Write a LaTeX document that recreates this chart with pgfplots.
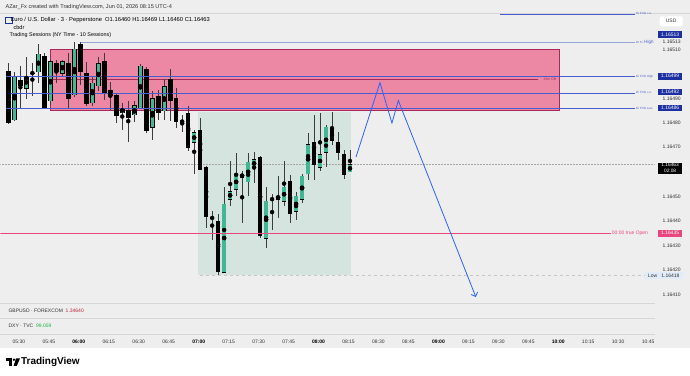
\documentclass[border=0pt]{standalone}
\usepackage{pgfplots}
\pgfplotsset{compat=1.18}
\usepackage{pgfplotstable}
\usepackage{fontspec}
\setmainfont{Liberation Sans}
\usetikzlibrary{arrows.meta}

\definecolor{bg}{RGB}{238,238,238}
\definecolor{bull}{RGB}{64,184,150}
\definecolor{wick}{RGB}{60,60,60}
\definecolor{obfill}{RGB}{236,136,164}
\definecolor{obedge}{RGB}{168,40,92}
\definecolor{sess}{RGB}{214,228,223}
\definecolor{fvg}{RGB}{72,92,205}
\definecolor{fib}{RGB}{150,165,215}
\definecolor{tvblue}{RGB}{41,98,255}
\definecolor{tvpink}{RGB}{236,70,128}
\definecolor{navy}{RGB}{28,48,160}
\definecolor{txt}{RGB}{50,50,50}
\definecolor{sepgray}{RGB}{214,214,214}
\definecolor{lowbg}{RGB}{225,236,250}

\newcommand\fs[2]{\fontsize{#1}{#2}\selectfont}

\pgfplotstableread{
t o h l c
-3 81.3 101.0 81.0 99.0
3 94.2 107.1 89.8 99.0
9 101.0 112.3 96.3 108.2
15 89.2 105.8 87.4 105.1
21 100.4 105.8 99.0 105.1
27 91.5 113.3 90.8 110.2
36 88.2 99.0 87.0 96.3
39 95.2 107.1 93.1 104.2
51 84.2 88.1 77.2 86.1
57 83.3 88.8 80.6 87.0
60 86.1 104.2 85.8 103.1
66 78.3 93.1 73.1 89.9
72 85.1 97.9 81.1 94.9
87 72.1 77.2 59.3 76.0
102 19.1 53.8 18.8 46.9
105 48.9 64.3 45.9 52.0
108 53.0 67.7 50.0 58.9
111 57.9 60.2 39.1 59.1
114 56.1 67.7 50.0 64.0
117 62.0 68.1 55.5 65.0
123 33.0 53.8 28.9 48.0
132 48.0 64.3 46.2 53.8
138 43.9 52.0 40.2 50.0
141 48.9 59.3 47.3 58.2
144 59.3 76.1 56.8 71.1
150 62.0 84.0 60.2 67.0
153 68.1 79.3 62.2 78.2
165 60.0 69.0 60.0 63.0
}\bulltab

\pgfplotstableread{
t o h l c
-6 101.0 104.7 79.7 80.2
0 97.2 103.1 86.1 95.3
6 100.4 104.4 91.1 100.4
12 107.1 108.5 86.0 86.1
18 104.2 105.8 96.3 101.0
24 104.2 108.5 86.1 90.2
30 112.2 113.3 95.6 101.0
33 100.4 105.1 87.0 88.1
42 105.1 108.6 89.5 92.2
45 93.3 96.9 85.4 91.1
48 91.1 92.3 80.2 83.1
54 85.2 89.1 72.4 82.4
63 102.0 102.8 76.1 77.0
69 91.0 93.6 81.3 84.2
75 97.9 102.0 80.9 89.3
78 89.9 94.2 78.0 80.5
81 80.9 83.3 76.4 80.3
84 84.0 87.0 68.4 70.0
90 76.9 82.0 60.9 61.1
93 62.0 62.5 37.1 41.8
96 41.2 43.9 32.3 41.2
99 39.8 42.9 18.0 19.4
120 65.9 66.6 33.0 34.0
126 48.9 51.1 36.1 48.9
129 50.0 58.2 41.2 48.9
135 56.1 58.9 39.1 43.2
147 72.0 83.3 56.8 62.9
156 77.2 84.7 71.1 72.9
159 72.0 76.5 65.0 68.1
162 67.0 68.8 57.1 59.1
}\beartab

\begin{document}
\begin{tikzpicture}[x=1pt,y=1pt]
% backgrounds
\fill[bg] (0,0) rectangle (690,376);
\fill[white] (0,0) rectangle (690,27.5);
\draw[sepgray, line width=0.8pt] (0,362.5) -- (690,362.5);
\draw[sepgray, line width=0.8pt] (0,72.7) -- (655,72.7);
\draw[sepgray, line width=0.8pt] (0,57) -- (655,57);
\draw[sepgray, line width=0.8pt] (0,41) -- (655,41);

\begin{axis}[at={(0pt,73pt)}, anchor=south west, scale only axis,
  x=2pt, y=2.45pt, xmin=-10, xmax=317.5, ymin=6.6, ymax=124.9,
  hide axis, clip=true]
% session box
\addplot[fill=sess, draw=none, forget plot] coordinates {(89,18) (165.3,18) (165.3,84.7) (89,84.7)} -- cycle;
% order block box
\addplot[fill=obfill, draw=obedge, line width=0.7pt, forget plot] coordinates {(15,85.1) (270,85.1) (270,110.2) (15,110.2)} -- cycle;
\addplot[color=obedge, line width=0.8pt, forget plot] coordinates {(15,97.9) (259,97.9)};
% current price dotted line
\addplot[color=gray!70, densely dotted, line width=0.5pt, forget plot] coordinates {(-10,63) (317.5,63)};
% low line
\addplot[color=gray!45, dashed, line width=0.4pt, forget plot] coordinates {(90,18) (312.5,18)};
% wicks
\addplot[only marks, mark=none, forget plot, error bars/.cd, y dir=both, y explicit, error mark=none,
  error bar style={draw=wick, line width=0.6pt, solid}]
  table[x=t, y expr={(\thisrow{h}+\thisrow{l})/2}, y error expr={(\thisrow{h}-\thisrow{l})/2}] {\bulltab};
\addplot[only marks, mark=none, forget plot, error bars/.cd, y dir=both, y explicit, error mark=none,
  error bar style={draw=wick, line width=0.6pt, solid}]
  table[x=t, y expr={(\thisrow{h}+\thisrow{l})/2}, y error expr={(\thisrow{h}-\thisrow{l})/2}] {\beartab};
% bodies
\addplot[only marks, mark=none, forget plot, error bars/.cd, y dir=both, y explicit, error mark=none,
  error bar style={draw=black, line width=4.6pt, solid}]
  table[x=t, y expr={(\thisrow{o}+\thisrow{c})/2}, y error expr={abs(\thisrow{o}-\thisrow{c})/2+0.2}] {\beartab};
\addplot[only marks, mark=none, forget plot, error bars/.cd, y dir=both, y explicit, error mark=none,
  error bar style={draw=black, line width=4.6pt, solid}]
  table[x=t, y expr={(\thisrow{o}+\thisrow{c})/2}, y error expr={abs(\thisrow{o}-\thisrow{c})/2+0.2}] {\bulltab};
\addplot[only marks, mark=none, forget plot, error bars/.cd, y dir=both, y explicit, error mark=none,
  error bar style={draw=bull, line width=3.4pt, solid}]
  table[x=t, y expr={(\thisrow{o}+\thisrow{c})/2}, y error expr={abs(\thisrow{o}-\thisrow{c})/2}] {\bulltab};
% true open line (level line, drawn above candles)
\draw[tvpink, line width=0.9pt] (axis cs:-10,35) -- (axis cs:295.5,35);
% FVG and fib lines
\addplot[color=fib, line width=0.9pt, forget plot] coordinates {(30.5,113) (307.5,113)};
\addplot[color=fvg, line width=0.6pt, forget plot] coordinates {(-7.4,99) (307.5,99)};
\addplot[color=fvg, line width=0.6pt, forget plot] coordinates {(-7.4,92) (307.5,92)};
\addplot[color=fvg, line width=0.6pt, forget plot] coordinates {(-7.4,86) (307.5,86)};
\addplot[color=fvg, line width=0.6pt, forget plot] coordinates {(240,124.5) (307.5,124.5)};
% projected path
\addplot[color=tvblue, line width=0.8pt, forget plot, -{Straight Barb[length=3.5pt,width=7pt]}]
  coordinates {(168,66.1) (180,96.5) (186,80.0) (189.2,89.2) (228,8.9)};
\end{axis}

% header texts
\node[anchor=west, text=txt, font=\fs{5.6}{6.5}, inner sep=0] at (5,369) {AZar\_Fx created with TradingView.com, Jun 01, 2026 08:15 UTC-4};
\draw[navy, line width=0.5pt] (5,353) rectangle (11.5,359);
\node[anchor=west, text=black, font=\fs{5.8}{6.5}, inner sep=0] at (10,356) {Euro / U.S. Dollar · 3 · Pepperstone\ \ O1.16460\ H1.16469\ L1.16460\ C1.16463};
\node[anchor=west, text=black, font=\fs{5.6}{6.5}, inner sep=0] at (13,348.5) {cbdr};
\node[anchor=west, text=black, font=\fs{5.4}{6.5}, inner sep=0] at (9,341) {Trading Sessions (NY Time - 10 Sessions)};
\node[text=obedge, font=\fs{3.5}{4}, inner sep=0] at (550,296.7) {15m OB};

% line labels
\node[anchor=west, text=fvg, font=\fs{3}{3.5}, inner sep=0] at (636,362.7) {1h FVG c.e.};
\node[anchor=west, text=fvg, font=\fs{3}{3.5}, inner sep=0] at (636,333.7) {1h Fi. {\fs{4.5}{5}High}};
\node[anchor=west, text=fvg, font=\fs{3}{3.5}, inner sep=0] at (636,299.3) {1h FVG High};
\node[anchor=west, text=fvg, font=\fs{3}{3.5}, inner sep=0] at (636,283.7) {1h FVG c.e.};
\node[anchor=west, text=fvg, font=\fs{3}{3.5}, inner sep=0] at (636,267.7) {1h FVG Low};
\node[anchor=west, text=tvpink, font=\fs{5}{6}, inner sep=0] at (612,142.5) {00:00 true Open};

% price scale
\node[fill=white, rounded corners=1.5pt, minimum width=23pt, minimum height=10pt, inner sep=0, text=txt, font=\fs{5}{6}] at (671.5,354.7) {USD};
\foreach \yy/\lab in {333.7/1.16513, 326.3/1.16510, 277.3/1.16490, 253.3/1.16480, 228.7/1.16470, 179.3/1.16450, 154.7/1.16440, 130.3/1.16430, 105.7/1.16420, 81.3/1.16410}
  \node[text=txt, font=\fs{5}{6}, inner sep=0] at (672,\yy) {\lab};
\foreach \yy/\lab in {341.3/1.16513, 299.7/1.16499, 283.7/1.16492, 268/1.16486}
  \node[fill=navy, text=white, font=\fs{5}{6}, inner sep=0, minimum width=24.5pt, minimum height=6.6pt] at (670.5,\yy) {\lab};
\node[fill=black, text=white, font=\fs{4.8}{6}, inner sep=0.8pt, minimum width=24.5pt, align=center] at (670.5,207.5) {1.16463\\02:08};
\node[fill=tvpink, text=white, font=\fs{5}{6}, inner sep=0, minimum width=24.5pt, minimum height=6.6pt] at (670.5,142.5) {1.16435};
\node[fill=lowbg, text=txt, font=\fs{5}{6}, inner sep=0, minimum width=38pt, minimum height=6.6pt, anchor=west] at (645,100) {Low\ \ \ 1.16418};

% lower panes
\node[anchor=west, text=txt, font=\fs{5}{6}, inner sep=0] at (8,65.3) {GBPUSD · FOREXCOM\ \ \textcolor[RGB]{180,40,60}{1.34640}};
\node[anchor=west, text=txt, font=\fs{5}{6}, inner sep=0] at (8,50) {DXY · TVC\ \ \textcolor[RGB]{30,180,70}{99.059}};

% time axis
\foreach \i/\lab in {0/05:30,1/05:45,3/06:15,4/06:30,5/06:45,7/07:15,8/07:30,9/07:45,11/08:15,12/08:30,13/08:45,15/09:15,16/09:30,17/09:45,19/10:15,20/10:30,21/10:45}
  \node[text=txt, font=\fs{5}{6}, inner sep=0] at ({18.5+30*\i},34.3) {\lab};
\foreach \i/\lab in {2/06:00,6/07:00,10/08:00,14/09:00,18/10:00}
  \node[text=black, font=\fs{5}{6}\bfseries, inner sep=0] at ({18.5+30*\i},34.3) {\lab};

% TradingView logo
\fill[black] (5.5,17.2) rectangle (11.5,14.6);
\fill[black] (8.6,14.6) rectangle (11.5,9.6);
\fill[black] (13.6,15.9) circle (1.3);
\fill[black] (15.6,17.2) -- (19.6,17.2) -- (16.4,9.6) -- (13.2,9.6) -- cycle;
\node[anchor=west, text=black, font=\fs{10}{12}\bfseries, inner sep=0] at (20.5,13.4) {TradingView};
\end{tikzpicture}
\end{document}
